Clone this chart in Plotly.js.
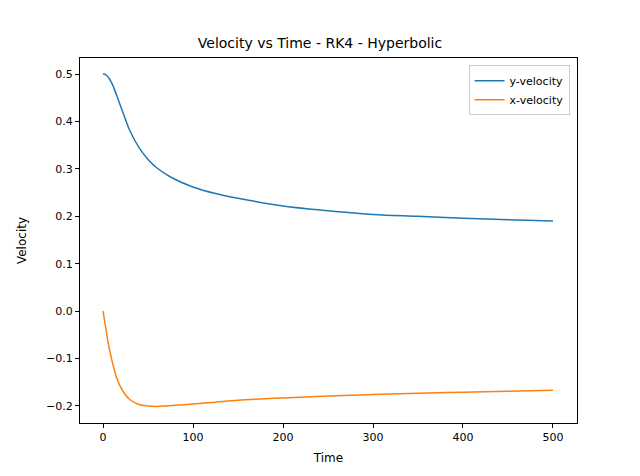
<!DOCTYPE html>
<html>
<head>
<script src="https://cdn.plot.ly/plotly-3.0.1.min.js"></script>
<style>body{margin:0}</style>
</head>
<body>
<div id="chart" style="width:640px;height:476px"></div>
<script>
// values
let timeY = [0, 3, 6, 10, 15, 20, 25, 30, 40, 50, 60, 75, 100, 125, 150, 200, 250, 300, 350, 400, 450, 500];
let yVel = [0.5, 0.499, 0.493, 0.48, 0.456, 0.43, 0.404, 0.38, 0.345, 0.32, 0.302, 0.283, 0.262, 0.248, 0.238, 0.222, 0.212, 0.204, 0.2, 0.196, 0.193, 0.19];
let timeX = [0, 3, 6, 10, 15, 20, 25, 30, 40, 50, 60, 70, 85, 100, 125, 150, 200, 250, 300, 350, 400, 450, 500];
let xVel = [0, -0.035, -0.07, -0.105, -0.14, -0.162, -0.177, -0.187, -0.197, -0.2, -0.201, -0.2, -0.198, -0.196, -0.192, -0.188, -0.183, -0.179, -0.176, -0.173, -0.171, -0.169, -0.167];

let font = {family: 'DejaVu Sans', size: 12, color: '#000'};
let axis = {
  showgrid: false, zeroline: false, showline: true, mirror: true,
  linecolor: '#000', linewidth: 1, ticks: 'outside', ticklen: 4,
  tickcolor: '#000', tickfont: {family: 'DejaVu Sans', size: 11}
};

Plotly.newPlot('chart', [
  {x: timeY, y: yVel, name: 'y-velocity', mode: 'lines', line: {color: '#1f77b4', width: 1.5, shape: 'spline'}},
  {x: timeX, y: xVel, name: 'x-velocity', mode: 'lines', line: {color: '#ff7f0e', width: 1.5, shape: 'spline'}}
], {
  width: 640, height: 476,
  font: font,
  margin: {l: 80, r: 63, t: 58, b: 53},
  paper_bgcolor: '#fff', plot_bgcolor: '#fff',
  title: {text: 'Velocity vs Time - RK4 - Hyperbolic', x: 0.5, xanchor: 'center', y: 0.92, font: {family: 'DejaVu Sans', size: 14}},
  xaxis: Object.assign({}, axis, {range: [-25.6, 526.7], tickvals: [0, 100, 200, 300, 400, 500],
    title: {text: 'Time', standoff: 10, font: {family: 'DejaVu Sans', size: 12}}}),
  yaxis: Object.assign({}, axis, {range: [-0.236, 0.534], tickvals: [-0.2, -0.1, 0, 0.1, 0.2, 0.3, 0.4, 0.5],
    ticktext: ['−0.2', '−0.1', '0.0', '0.1', '0.2', '0.3', '0.4', '0.5'],
    title: {text: 'Velocity', standoff: 16, font: {family: 'DejaVu Sans', size: 12}}}),
  legend: {x: 0.985, y: 0.98, xanchor: 'right', yanchor: 'top', bgcolor: 'rgba(255,255,255,0.8)',
    bordercolor: '#ccc', borderwidth: 1, font: {family: 'DejaVu Sans', size: 11}}
}, {displayModeBar: false});
</script>
</body>
</html>
